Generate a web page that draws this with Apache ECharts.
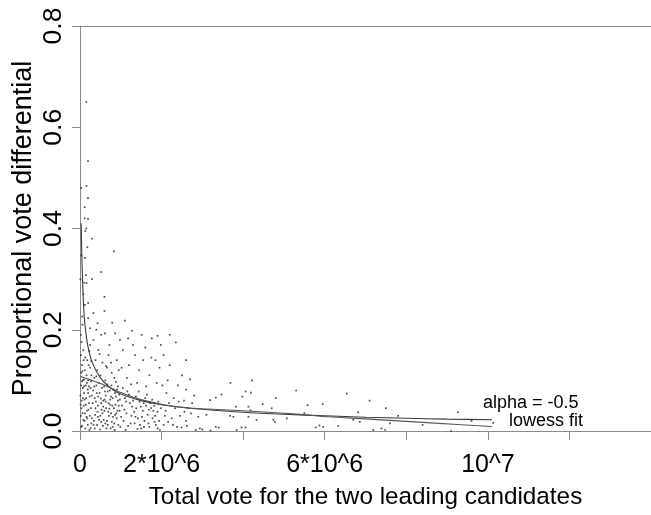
<!DOCTYPE html>
<html>
<head>
<meta charset="utf-8">
<script src="https://cdn.jsdelivr.net/npm/echarts@6/dist/echarts.min.js"></script>
<style>
html,body{margin:0;padding:0;background:#fff;}
#chart{width:651px;height:515px;}
</style>
</head>
<body>
<div id="chart"></div>
<script>
// x values in millions of votes, y = proportional vote differential
var xTickValues = [0, 2, 6, 10];
var xTickLabels = ['0', '2*10^6', '6*10^6', '10^7'];
var yTickValues = [0, 0.2, 0.4, 0.6, 0.8];

var scatterPoints = [
[0.155,0.65],[0.196,0.533],[0.16,0.484],[0.03,0.48],[0.196,0.46],[0.115,0.442],[0.115,0.42],[0.196,0.419],[0.155,0.40],[0.13,0.395],[0.30,0.38],[0.18,0.363],[0.83,0.355],[0.12,0.342],[0.03,0.347],[0.52,0.314],[0.147,0.308],[0.29,0.30],[0.16,0.292],[0.01,0.30],
[0.105,0.293],[0.2,0.253],[0.12,0.249],[0.056,0.226],[0.2,0.223],[0.245,0.203],[0.04,0.176],[0.08,0.27],[0.06,0.21],[0.02,0.19],
[0.02,0.15],[0.05,0.13],[0.08,0.16],[0.12,0.12],[0.18,0.14],[0.25,0.17],[0.28,0.11],[0.03,0.09],[0.07,0.10],[0.1,0.075],[0.14,0.09],[0.2,0.1],[0.26,0.085],[0.04,0.06],[0.09,0.05],[0.15,0.065],[0.22,0.055],[0.29,0.07],[0.02,0.03],[0.06,0.035],[0.11,0.02],[0.17,0.04],[0.24,0.03],[0.28,0.015],[0.05,0.01],[0.13,0.005],[0.19,0.012],[0.23,0.002],[0.01,0.07],[0.16,0.11],[0.21,0.13],[0.09,0.14],[0.27,0.045],[0.12,0.035],[0.2,0.075],[0.07,0.085],[0.25,0.125],[0.03,0.115],[0.18,0.025],[0.1,0.102],
[0.04,0.045],[0.08,0.022],[0.14,0.052],[0.22,0.088],[0.27,0.098],[0.06,0.118],[0.13,0.145],[0.23,0.158],[0.11,0.062],[0.19,0.082],[0.03,0.008],[0.26,0.006],
[0.015,0.052],[0.07,0.065],[0.16,0.028],[0.21,0.042],[0.29,0.025],[0.1,0.088],[0.24,0.068],[0.05,0.098],[0.17,0.095],[0.28,0.138],
[0.6,0.265],[0.6,0.237],[0.33,0.233],[0.43,0.213],[0.79,0.214],[0.61,0.193],[0.86,0.193],[0.33,0.18],[0.98,0.18],[0.45,0.16],[0.7,0.15],[0.38,0.14],[0.55,0.135],[0.9,0.14],[0.66,0.125],[0.42,0.12],[0.78,0.115],[0.5,0.11],[0.95,0.12],[0.35,0.105],[0.62,0.1],[0.88,0.097],[0.72,0.17],[0.52,0.19],[0.4,0.2],
[0.32,0.08],[0.36,0.065],[0.4,0.09],[0.44,0.05],[0.48,0.075],[0.5,0.03],[0.54,0.085],[0.57,0.06],[0.6,0.04],[0.63,0.07],[0.66,0.02],[0.7,0.055],[0.73,0.08],[0.76,0.035],[0.8,0.065],[0.83,0.045],[0.86,0.075],[0.9,0.025],[0.93,0.06],[0.97,0.04],[0.34,0.02],[0.38,0.045],[0.42,0.012],[0.46,0.095],[0.52,0.055],[0.56,0.01],[0.59,0.088],[0.64,0.045],[0.68,0.078],[0.71,0.03],[0.75,0.005],[0.79,0.05],[0.84,0.015],[0.88,0.068],[0.92,0.04],[0.96,0.072],[0.99,0.008],[0.31,0.055],[0.45,0.068],[0.62,0.015],[0.74,0.062],[0.81,0.028],[0.95,0.05],[0.37,0.032],[0.53,0.042],[0.67,0.092],[0.87,0.052],[0.41,0.075],[0.58,0.022],[0.69,0.038],[0.77,0.09],[0.91,0.082],[0.49,0.003],[0.63,0.058],[0.85,0.002],[0.35,0.088],
[0.33,0.012],[0.39,0.058],[0.47,0.022],[0.51,0.064],[0.55,0.035],[0.61,0.078],[0.65,0.005],[0.72,0.044],[0.78,0.018],[0.82,0.082],[0.89,0.035],[0.94,0.012],[0.43,0.038],[0.57,0.048],[0.76,0.068],
[0.36,0.005],[0.44,0.028],[0.52,0.018],[0.6,0.062],[0.68,0.012],[0.74,0.052],[0.8,0.008],[0.86,0.032],[0.93,0.088],[0.98,0.062],[0.4,0.108],[0.64,0.128],[0.84,0.105],[0.48,0.152],[0.76,0.135],
[1.1,0.218],[1.28,0.198],[1.51,0.19],[1.18,0.183],[1.76,0.183],[1.9,0.188],[1.05,0.16],[1.35,0.15],[1.6,0.165],[1.85,0.14],[1.2,0.13],[1.45,0.12],[1.7,0.11],[1.95,0.125],[1.15,0.105],[1.4,0.095],[1.62,0.088],[1.88,0.095],[1.3,0.17],[1.55,0.14],[1.02,0.125],[1.75,0.145],[1.25,0.092],[1.98,0.17],
[1.03,0.05],[1.07,0.02],[1.1,0.065],[1.14,0.035],[1.18,0.01],[1.22,0.055],[1.26,0.03],[1.3,0.06],[1.34,0.015],[1.38,0.045],[1.42,0.025],[1.46,0.058],[1.5,0.005],[1.54,0.04],[1.58,0.02],[1.62,0.05],[1.66,0.032],[1.7,0.008],[1.74,0.045],[1.78,0.025],[1.82,0.05],[1.86,0.012],[1.9,0.038],[1.94,0.02],[1.98,0.045],[1.09,0.042],[1.2,0.072],[1.33,0.038],[1.47,0.012],[1.6,0.065],[1.72,0.055],[1.84,0.03],[1.96,0.002],[1.12,0.002],[1.37,0.068],[1.52,0.028],[1.68,0.015],[1.8,0.04],
[1.05,0.085],[1.16,0.078],[1.28,0.048],[1.41,0.004],[1.56,0.055],[1.64,0.072],[1.77,0.062],[1.92,0.058],
[1.01,0.028],[1.24,0.015],[1.36,0.028],[1.49,0.048],[1.57,0.008],[1.69,0.042],[1.83,0.018],[1.91,0.005],[1.13,0.058],[1.44,0.078],
[2.05,0.15],[2.2,0.13],[2.35,0.175],[2.5,0.11],[2.15,0.1],[2.4,0.09],[2.7,0.102],[2.6,0.082],[2.3,0.065],[2.55,0.06],[2.8,0.07],[2.1,0.04],[2.25,0.025],[2.45,0.03],[2.6,0.02],[2.49,0.007],[2.62,0.01],[2.94,0.005],[2.84,0.002],[3.0,0.003],[2.05,0.012],[2.18,0.055],[2.38,0.008],[2.72,0.035],[2.9,0.028],[2.12,0.075],[2.65,0.045],[2.33,0.045],[2.02,0.09],[2.75,0.055],[2.2,0.19],[2.6,0.14],
[2.08,0.03],[2.28,0.012],[2.42,0.058],[2.56,0.038],[2.16,0.018],
[3.69,0.095],[4.22,0.10],[4.06,0.078],[4.19,0.076],[3.19,0.061],[3.33,0.066],[3.47,0.072],[3.98,0.068],[4.8,0.065],[4.48,0.053],[4.7,0.045],[3.82,0.048],[4.13,0.048],[4.18,0.041],[3.1,0.032],[3.68,0.03],[3.76,0.028],[4.13,0.028],[4.33,0.022],[4.74,0.022],[4.78,0.018],[3.33,0.008],[3.4,0.007],[3.96,0.007],[4.06,0.007],[3.84,0.002],[3.2,0.001],
[5.07,0.025],[5.58,0.051],[5.95,0.053],[5.78,0.007],[5.87,0.011],[5.96,0.008],[6.33,0.01],[6.54,0.074],[6.82,0.037],[6.7,0.022],[6.86,0.018],[7.6,0.015],[7.39,0.005],[7.19,0.002],[7.48,0.002],[5.3,0.08],[5.5,0.035],[7.8,0.03],[7.5,0.045],[7.1,0.06],
[9.27,0.037],[10.13,0.016],[9.1,0.0],[8.4,0.012],[9.6,0.02]
];

var alphaCurve = [
[0.03,0.41],[0.05,0.33],[0.1,0.23],[0.15,0.19],[0.2,0.165],[0.3,0.135],[0.5,0.105],[0.75,0.085],[1.0,0.073],[1.5,0.06],[2.0,0.052],[2.5,0.047],[3.0,0.043],[4.0,0.037],[5.0,0.033],[6.0,0.030],[7.0,0.0272],[8.0,0.0252],[9.0,0.0235],[10.1,0.0222]
];

var lowessCurve = [
[0.0,0.108],[0.25,0.101],[0.5,0.094],[0.7,0.087],[1.0,0.076],[1.5,0.062],[2.0,0.053],[2.45,0.047],[3.0,0.044],[4.0,0.040],[5.0,0.035],[5.4,0.033],[6.1,0.028],[7.0,0.024],[8.0,0.019],[8.6,0.016],[10.1,0.009]
];

var chart = echarts.init(document.getElementById('chart'), null, {renderer: 'canvas'});
var FONT = "'Liberation Sans', Arial, Helvetica, sans-serif";
var axisGray = '#8a8a8a';

var option = {
  animation: false,
  backgroundColor: '#ffffff',
  grid: {left: 80, right: 0, top: 26, bottom: 84, containLabel: false, outerBoundsMode: 'none'},
  xAxis: [{
    type: 'value', min: 0, max: 14, interval: 2,
    name: 'Total vote for the two leading candidates',
    nameLocation: 'middle', nameGap: 54, nameMoveOverlap: false,
    nameTextStyle: {fontFamily: FONT, fontSize: 24.3, color: '#000'},
    axisLine: {show: true, lineStyle: {color: axisGray, width: 1}},
    axisTick: {show: true, length: 9, lineStyle: {color: axisGray}},
    splitLine: {show: false},
    axisLabel: {
      margin: 22, fontFamily: FONT, fontSize: 25, color: '#000',
      formatter: function (v) {
        var i = xTickValues.indexOf(v);
        return i >= 0 ? xTickLabels[i] : '';
      }
    }
  }, {
    type: 'value', min: 0, max: 14, position: 'top',
    axisLine: {show: true, onZero: false, lineStyle: {color: axisGray, width: 1}},
    axisTick: {show: false}, axisLabel: {show: false}, splitLine: {show: false}
  }],
  yAxis: {
    type: 'value', min: 0, max: 0.8, interval: 0.2,
    name: 'Proportional vote differential',
    nameLocation: 'middle', nameGap: 43, nameRotate: 90, nameMoveOverlap: false,
    nameTextStyle: {fontFamily: FONT, fontSize: 27, color: '#000'},
    axisLine: {show: true, lineStyle: {color: axisGray, width: 1}},
    axisTick: {show: true, length: 8, lineStyle: {color: axisGray}},
    splitLine: {show: false},
    axisLabel: {
      rotate: 90, margin: 13, fontFamily: FONT, fontSize: 26.5, color: '#000',
      formatter: function (v) {
        for (var i = 0; i < yTickValues.length; i++) {
          if (Math.abs(yTickValues[i] - v) < 1e-9) return yTickValues[i].toFixed(1);
        }
        return '';
      }
    }
  },
  series: [{
    name: 'votes', type: 'scatter', data: scatterPoints,
    symbol: 'rect', symbolSize: 1.7,
    itemStyle: {color: '#222'}, silent: true
  }, {
    name: 'alpha = -0.5', type: 'line', data: alphaCurve, smooth: 0.3,
    showSymbol: false, lineStyle: {color: '#3a3a3a', width: 1.1}, silent: true
  }, {
    name: 'lowess fit', type: 'line', data: lowessCurve, smooth: 0.3,
    showSymbol: false, lineStyle: {color: '#555', width: 1.1}, silent: true
  }],
  graphic: [{
    type: 'text', left: 483, top: 394,
    style: {text: 'alpha = -0.5', fontFamily: FONT, fontSize: 18, fill: '#000'}
  }, {
    type: 'text', left: 509, top: 412,
    style: {text: 'lowess fit', fontFamily: FONT, fontSize: 18, fill: '#000'}
  }]
};
chart.setOption(option);
</script>
</body>
</html>
